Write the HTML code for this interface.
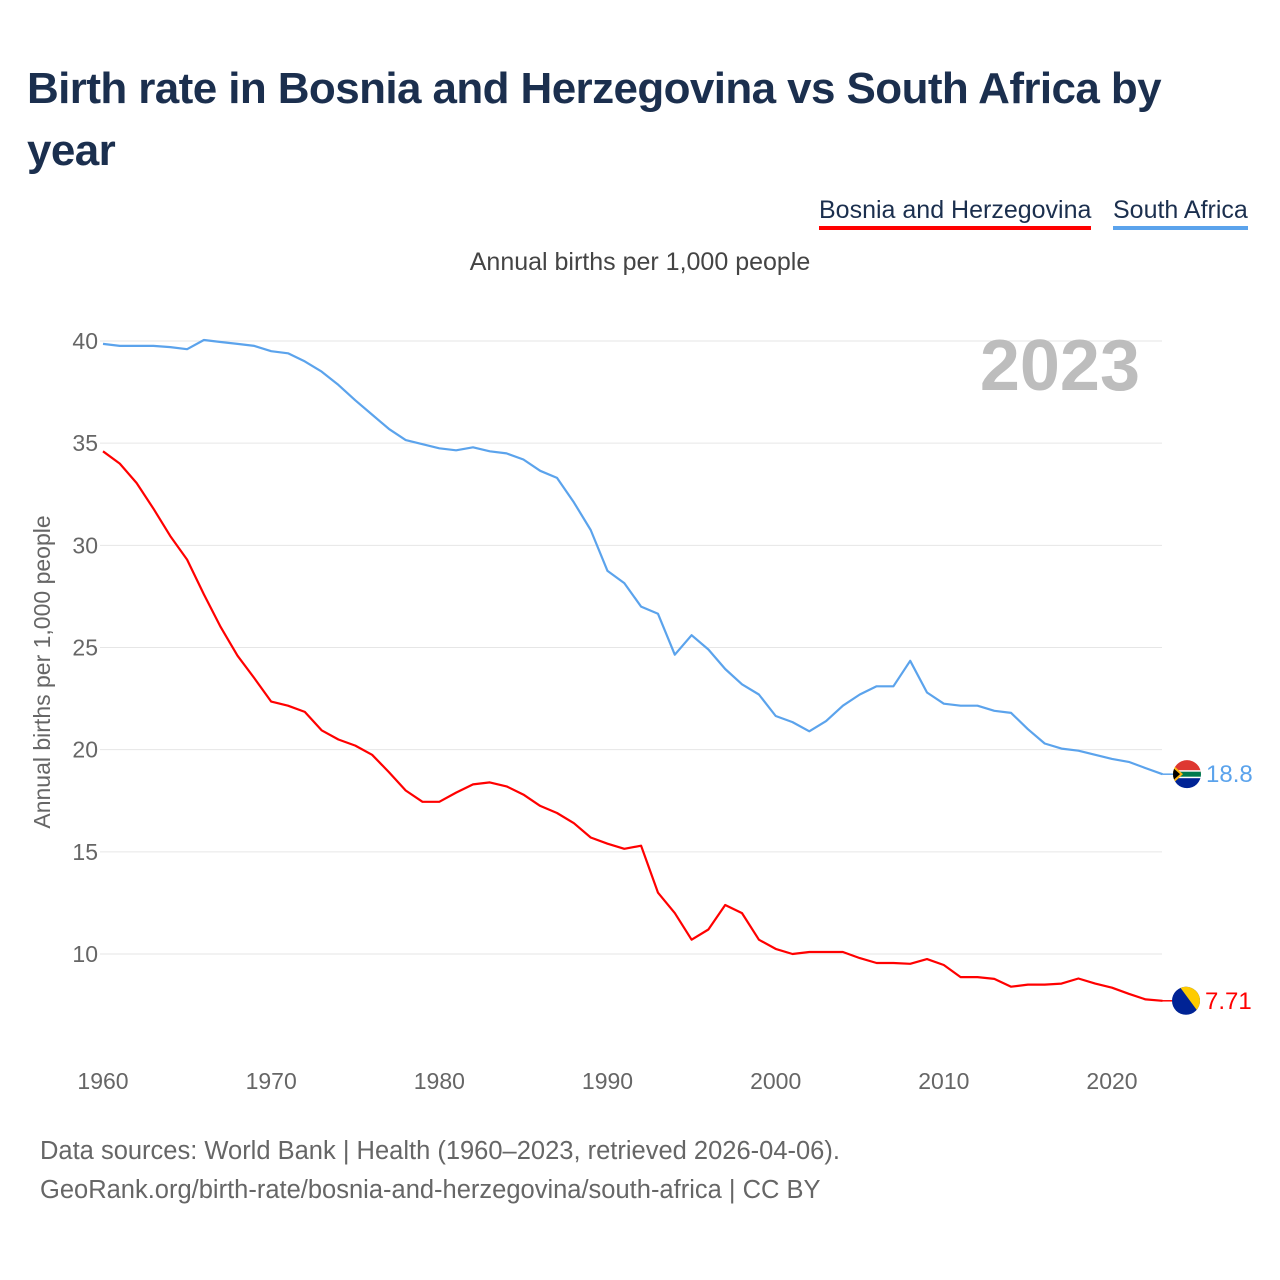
<!DOCTYPE html>
<html><head><meta charset="utf-8">
<style>
body{margin:0;background:#fff;font-family:"Liberation Sans",sans-serif;}
#wrap{position:relative;width:1280px;height:1280px;overflow:hidden;}
h1{position:absolute;left:27px;top:58px;margin:0;width:1220px;font-size:44px;line-height:62px;color:#1b2f4e;font-weight:bold;letter-spacing:-0.6px}
.leg{position:absolute;top:196px;font-size:25px;color:#1b2f4e;padding-bottom:1px;white-space:nowrap}
.src{position:absolute;left:40px;font-size:25.5px;color:#666;white-space:nowrap}
</style></head><body>
<div id="wrap">
<h1>Birth rate in Bosnia and Herzegovina vs South Africa by year</h1>
<div class="leg" style="left:819px;border-bottom:4px solid #ff0000">Bosnia and Herzegovina</div>
<div class="leg" style="left:1113px;border-bottom:4px solid #5ba3ec">South Africa</div>
<div class="src" style="top:1137px">Data sources: World Bank | Health (1960–2023, retrieved 2026-04-06).</div>
<div class="src" style="top:1176px">GeoRank.org/birth-rate/bosnia-and-herzegovina/south-africa | CC BY</div>
<svg id="chart" width="1280" height="1280" style="position:absolute;left:0;top:0"></svg>
</div>
<script>
const years=[];for(let y=1960;y<=2023;y++)years.push(y);
const southAfrica=[39.86,39.76,39.76,39.76,39.7,39.6,40.05,39.95,39.86,39.76,39.5,39.4,39.0,38.5,37.85,37.1,36.4,35.7,35.15,34.95,34.75,34.65,34.8,34.6,34.5,34.2,33.65,33.3,32.1,30.75,28.75,28.15,27.0,26.65,24.65,25.6,24.9,23.95,23.2,22.7,21.65,21.35,20.9,21.4,22.15,22.7,23.1,23.1,24.35,22.8,22.25,22.15,22.15,21.9,21.8,21.0,20.3,20.05,19.95,19.75,19.55,19.4,19.1,18.8];
const bosnia=[34.6,34.0,33.05,31.8,30.45,29.3,27.6,26.0,24.6,23.5,22.35,22.15,21.85,20.95,20.5,20.2,19.75,18.9,18.0,17.45,17.45,17.9,18.3,18.4,18.2,17.8,17.25,16.9,16.4,15.7,15.4,15.15,15.3,13.0,12.0,10.7,11.2,12.4,12.0,10.7,10.25,10.0,10.1,10.1,10.1,9.8,9.56,9.56,9.52,9.75,9.46,8.87,8.87,8.78,8.4,8.5,8.5,8.55,8.8,8.55,8.35,8.05,7.78,7.71];
const yTicks=[10,15,20,25,30,35,40];
const xTicks=[1960,1970,1980,1990,2000,2010,2020];
const saLabel="18.8", baLabel="7.71";

const NS="http://www.w3.org/2000/svg";
const svg=document.getElementById('chart');
const X=y=>103+(y-1960)*(1112-103)/60;
const Y=v=>954-(v-10)*(954-341)/30;
function mk(t,a){const e=document.createElementNS(NS,t);for(const k in a)e.setAttribute(k,a[k]);svg.appendChild(e);return e;}

yTicks.forEach(v=>{
  const g=mk('line',{x1:100,x2:1162,y1:Y(v),y2:Y(v),stroke:'#e6e6e6','stroke-width':1});
  
  
  const t=mk('text',{x:98,y:Y(v)+8,'text-anchor':'end','font-size':23,fill:'#666','font-family':'Liberation Sans, sans-serif'});
  t.textContent=v;
  
  
});
xTicks.forEach(v=>{
  const t=mk('text',{x:X(v),y:1089,'text-anchor':'middle','font-size':23,fill:'#666','font-family':'Liberation Sans, sans-serif'});
  t.textContent=v;
  
  
});
const yt=mk('text',{transform:'translate(50,672) rotate(-90)','text-anchor':'middle','font-size':23,fill:'#666','font-family':'Liberation Sans, sans-serif'});
yt.textContent='Annual births per 1,000 people';


const st=mk('text',{x:640,y:270,'text-anchor':'middle','font-size':25,fill:'#444','font-family':'Liberation Sans, sans-serif'});
st.textContent='Annual births per 1,000 people';


const yr=mk('text',{x:1140,y:390,'text-anchor':'end','font-size':72,'font-weight':'bold',fill:'#bdbdbd','font-family':'Liberation Sans, sans-serif'});
yr.textContent='2023';



function line(data,color,name){
  const d=data.map((v,i)=>(i?'L':'M')+X(years[i]).toFixed(1)+','+Y(v).toFixed(1)).join(' ');
  const p=mk('path',{d:d,fill:'none',stroke:color,'stroke-width':2.2,'stroke-linejoin':'round'});
  
  
  const last=data[data.length-1];
  const l=mk('line',{x1:X(2023),x2:1175,y1:Y(last),y2:Y(last),stroke:color,'stroke-width':1.5});
  
  
}
line(southAfrica,'#5ba3ec','line-south-africa');
line(bosnia,'#ff0000','line-bosnia');

const sa=southAfrica[southAfrica.length-1], ba=bosnia[bosnia.length-1];
const defs=mk('defs',{});
defs.innerHTML='<clipPath id="c1"><circle cx="1187" cy="'+Y(sa)+'" r="14"/></clipPath><clipPath id="c2"><circle cx="1186" cy="'+Y(ba)+'" r="14"/></clipPath>';
const f1=mk('g',{'clip-path':'url(#c1)'});


const cy1=Y(sa);
f1.innerHTML='<rect x="1170" y="'+(cy1-15)+'" width="34" height="15" fill="#de3831"/><rect x="1170" y="'+cy1+'" width="34" height="15" fill="#002395"/><rect x="1170" y="'+(cy1-4)+'" width="34" height="8" fill="#fff"/><rect x="1170" y="'+(cy1-2.5)+'" width="34" height="5" fill="#007a4d"/><polygon points="1170,'+(cy1-12)+' 1183,'+cy1+' 1170,'+(cy1+12)+'" fill="#ffb612"/><polygon points="1170,'+(cy1-9)+' 1180,'+cy1+' 1170,'+(cy1+9)+'" fill="#000"/>';
const f2=mk('g',{'clip-path':'url(#c2)'});


const cy2=Y(ba);
f2.innerHTML='<rect x="1170" y="'+(cy2-15)+'" width="34" height="30" fill="#002395"/><polygon points="1179,'+(cy2-15)+' 1201,'+(cy2-15)+' 1201,'+(cy2+15)+'" fill="#fecb00"/>';
const t1=mk('text',{x:1206,y:Y(sa)+8,'font-size':24,fill:'#5ba3ec','font-family':'Liberation Sans, sans-serif'});
t1.textContent=saLabel;


const t2=mk('text',{x:1205,y:Y(ba)+8,'font-size':24,fill:'#ff0000','font-family':'Liberation Sans, sans-serif'});
t2.textContent=baLabel;


</script>
</body></html>
